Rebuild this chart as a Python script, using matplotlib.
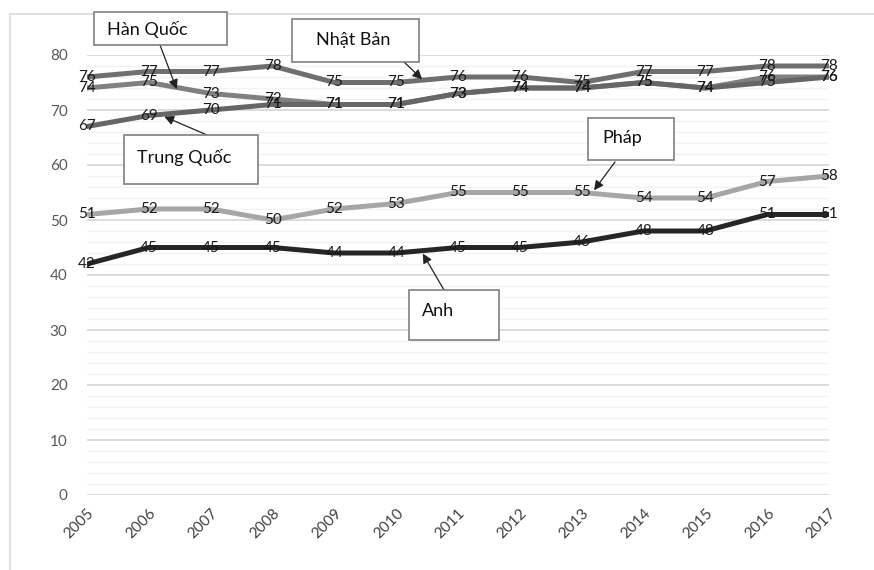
import matplotlib.pyplot as plt
from matplotlib.patches import Rectangle

years = [2005, 2006, 2007, 2008, 2009, 2010, 2011, 2012, 2013, 2014, 2015, 2016, 2017]
year_labels = [str(y) for y in years]

nhat_ban = [76, 77, 77, 78, 75, 75, 76, 76, 75, 77, 77, 78, 78]
han_quoc = [74, 75, 73, 72, 71, 71, 73, 74, 74, 75, 74, 76, 76]
trung_quoc = [67, 69, 70, 71, 71, 71, 73, 74, 74, 75, 74, 75, 76]
phap = [51, 52, 52, 50, 52, 53, 55, 55, 55, 54, 54, 57, 58]
anh = [42, 45, 45, 45, 44, 44, 45, 45, 46, 48, 48, 51, 51]

W, H = 874, 570
plt.rcParams["font.family"] = ["Lato", "DejaVu Sans"]

fig = plt.figure(figsize=(W / 100, H / 100), dpi=100)
ax = fig.add_axes([87 / W, (H - 495) / H, (829 - 87) / W, 440 / H])

# outer chart frame (left/top edges visible only)
fig.patches.append(Rectangle((10 / W, -0.1), 1.2, (H - 14) / H + 0.1,
                             transform=fig.transFigure, fill=False,
                             edgecolor="#d9d9d9", lw=1.2))

ax.set_xlim(years[0], years[-1])
ax.set_ylim(0, 80)
ax.set_yticks(range(0, 81, 10))
ax.set_yticks(range(0, 81, 2), minor=True)
ax.grid(True, which="major", axis="y", color="#d9d9d9", lw=1.3)
ax.grid(True, which="minor", axis="y", color="#f2f2f2", lw=1.0)
ax.set_axisbelow(True)
for s in ax.spines.values():
    s.set_visible(False)
ax.tick_params(which="both", length=0)
ax.tick_params(axis="y", labelsize=11, labelcolor="#595959", pad=14)
ax.set_xticks(years)
ax.set_xticklabels(year_labels, rotation=45, ha="right", va="top",
                   rotation_mode="anchor", fontsize=11, color="#404040")
ax.tick_params(axis="x", pad=8)

series = [
    (phap, "#a6a6a6"),
    (anh, "#262626"),
    (han_quoc, "#808080"),
    (trung_quoc, "#666666"),
    (nhat_ban, "#6f6f6f"),
]
for values, color in series:
    ax.plot(years, values, color=color, lw=3.6,
            solid_capstyle="round", solid_joinstyle="round")
for values, color in series:
    for x, v in zip(years, values):
        ax.text(x, v, str(v), ha="center", va="center", fontsize=11,
                color="#1a1a1a")


def callout(text, box, text_xy, start, target):
    # box / text_xy / start are in image pixels (top-left origin)
    x0, y0, x1, y1 = box
    fig.patches.append(Rectangle((x0 / W, (H - y1) / H), (x1 - x0) / W,
                                 (y1 - y0) / H, transform=fig.transFigure,
                                 facecolor="white", edgecolor="#7f7f7f",
                                 lw=1.2, zorder=5))
    fig.text(text_xy[0] / W, (H - text_xy[1]) / H, text, fontsize=13,
             ha="left", va="center", color="#111111", zorder=6)
    ax.annotate("", xy=target, xycoords="data",
                xytext=(start[0], H - start[1]), textcoords="figure pixels",
                arrowprops=dict(arrowstyle="-|>", color="#222222", lw=0.9,
                                mutation_scale=14, shrinkA=0, shrinkB=0),
                annotation_clip=False)


callout("Hàn Quốc", (94, 12, 227, 45), (107, 30), (160, 45), (2006.45, 73.8))
callout("Nhật Bản", (292, 19, 419, 62), (316, 40), (404, 62), (2010.42, 75.6))
callout("Trung Quốc", (124, 135, 258, 184), (137, 157), (207, 135), (2006.25, 68.8))
callout("Pháp", (588, 118, 674, 160), (602, 138), (615, 162), (2013.2, 55.4))
callout("Anh", (409, 290, 499, 340), (422, 311), (444, 290), (2010.43, 43.9))

fig.savefig("out.png", dpi=100)
